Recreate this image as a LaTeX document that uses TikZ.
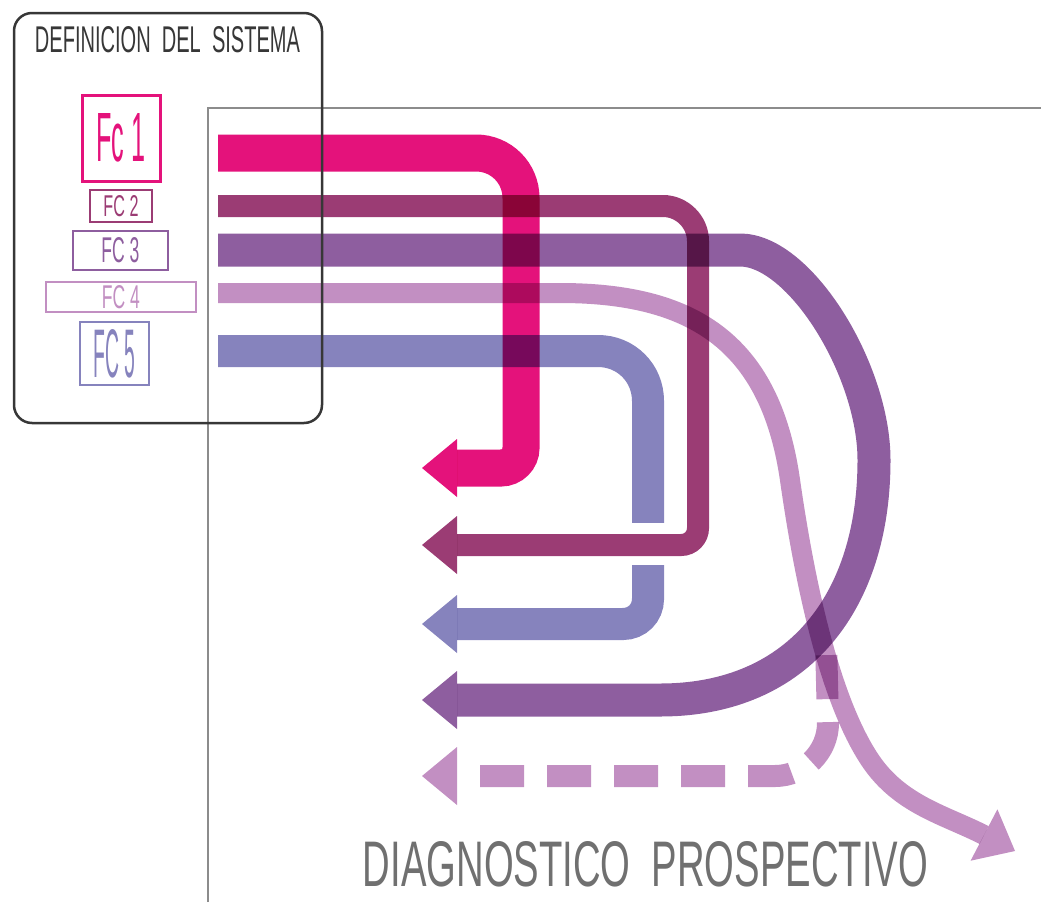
\documentclass[tikz,border=0pt]{standalone}
\usepackage{fontspec}
\setmainfont{Liberation Sans}
\usepackage{graphicx}
\definecolor{cfa}{RGB}{228,18,123}
\definecolor{cfb}{RGB}{155,60,116}
\definecolor{cfc}{RGB}{142,94,159}
\definecolor{cfd}{RGB}{194,143,194}
\definecolor{cfe}{RGB}{134,131,189}
\definecolor{framegray}{RGB}{140,140,140}
\definecolor{boxgray}{RGB}{55,55,55}
\definecolor{textgray}{RGB}{112,112,112}
\begin{document}
\begin{tikzpicture}[x=1pt,y=-1pt,
  band/.style={line cap=butt, blend mode=multiply},
  head/.style={blend mode=multiply},
  fcbox/.style={draw, inner sep=0pt, line width=2pt},
  lbl/.style={inner sep=0pt}]
\useasboundingbox (0,0) rectangle (1041,902);
% frame
\coordinate (fbl) at (208,902);
\coordinate (ftl) at (208,108);
\coordinate (ftr) at (1041,108);
\draw[framegray, line width=2.5pt] (fbl) -- (ftl) -- (ftr);

% FC5
\draw[band, cfe, line width=32pt]
  (218,351) -- (598,351) .. controls (626,351) and (648,373) .. (648,401)
  -- (648,599) .. controls (648,613) and (637,624) .. (623,624) -- (457,624);
\fill[head, cfe] (422,624) -- (457,595) -- (457,653) -- cycle;
% white gap in FC5 where FC2 passes
\fill[white] (628,523) rectangle (669,565);
% FC2
\draw[band, cfb, line width=22pt]
  (218,206) -- (663,206) .. controls (682,206) and (698,222) .. (698,241)
  -- (698,528) .. controls (698,537) and (691,545) .. (681,545) -- (457,545);
\fill[head, cfb] (422,545) -- (457,516) -- (457,574) -- cycle;
% FC3
\draw[band, cfc, line width=33pt]
  (218,250) -- (740,250) .. controls (800,250) and (874,370) .. (874,460)
  .. controls (874,600) and (800,700) .. (660,700) -- (457,700);
\fill[head, cfc] (422,700) -- (457,671) -- (457,729) -- cycle;
% FC4 main
\draw[band, cfd, line width=20pt]
  (218,293) -- (560,293) .. controls (690,293) and (770,340) .. (790,480)
  .. controls (805,585) and (830,700) .. (870,760)
  .. controls (900,805) and (945,815) .. (984,835);
\fill[head, cfd] (1015,851) -- (997.4,809.3) -- (970.6,860.7) -- cycle;
% FC4 dashed branch
\draw[band, cfd, line width=22pt, dash pattern=on 44pt off 23pt]
  (480,776) -- (775,776) .. controls (804,776) and (828,752) .. (828,723) -- (826,640);
\fill[head, cfd] (422,776) -- (457,747) -- (457,805) -- cycle;
% FC1
\draw[band, cfa, line width=37pt]
  (218,153) -- (476,153) .. controls (501,153) and (521,173) .. (521,198)
  -- (521,448) .. controls (521,459) and (512,468) .. (501,468) -- (457,468);
\fill[head, cfa] (422,468) -- (457,439) -- (457,497) -- cycle;

% definition box
\draw[boxgray, line width=2.5pt, rounded corners=18pt] (14,13) rectangle (322,423);
\node[lbl, text=boxgray] (title) at (167.5,40) {\resizebox{265pt}{26pt}{DEFINICION\ \ DEL\ \ SISTEMA}};

\node[fcbox, draw=cfa, line width=3pt, minimum width=78pt, minimum height=86pt, text=cfa] (b1) at (121,138) {\resizebox{49pt}{48pt}{Fc 1}};
\node[fcbox, draw=cfb, minimum width=62pt, minimum height=32pt, text=cfb] (b2) at (121,206) {\resizebox{35pt}{21pt}{FC 2}};
\node[fcbox, draw=cfc, minimum width=95pt, minimum height=39pt, text=cfc] (b3) at (120.5,250.5) {\resizebox{38pt}{25pt}{FC 3}};
\node[fcbox, draw=cfd, minimum width=150pt, minimum height=30pt, text=cfd] (b4) at (121,297) {\resizebox{38pt}{23pt}{FC 4}};
\node[fcbox, draw=cfe, minimum width=69pt, minimum height=63pt, text=cfe] (b5) at (114.5,353.5) {\resizebox{42pt}{48pt}{FC 5}};

\node[lbl, text=textgray] (diag) at (645.5,864.5) {\resizebox{565pt}{45pt}{DIAGNOSTICO\ \ PROSPECTIVO}};
\end{tikzpicture}
\end{document}
